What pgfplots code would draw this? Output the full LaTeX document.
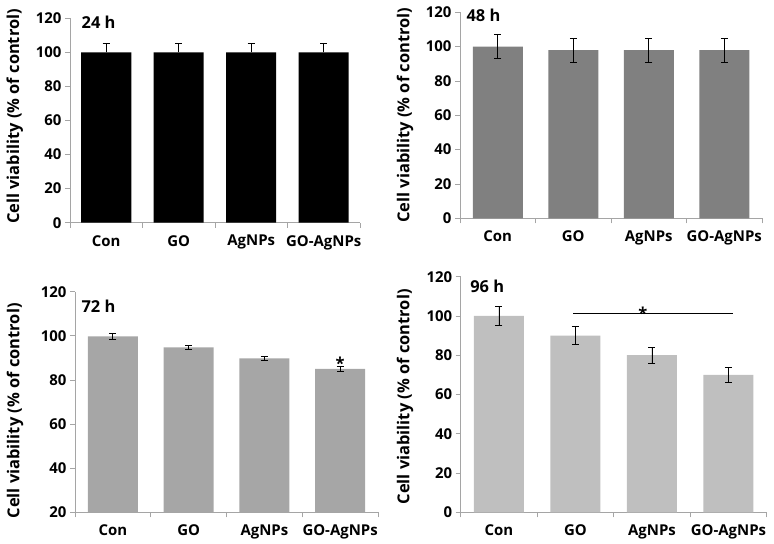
\documentclass[border=0pt]{standalone}
\usepackage{fontspec}
\setmainfont{Open Sans}
\usepackage{pgfplots}
\pgfplotsset{compat=1.18}
\definecolor{axgray}{RGB}{165,165,165}
\definecolor{bar48}{RGB}{128,128,128}
\definecolor{bar72}{RGB}{166,166,166}
\definecolor{bar96}{RGB}{191,191,191}
\pgfplotsset{
  panel/.style={
    scale only axis,
    clip mode=individual,
    axis x line*=bottom,
    axis y line*=left,
    axis line style={axgray, line width=0.8pt},
    xmin=-0.5, xmax=3.5,
    xtick={0,1,2,3},
    xticklabels={Con,GO,AgNPs,GO-AgNPs},
    major x tick style={draw=none},
    minor xtick={-0.5,0.5,1.5,2.5,3.5},
    minor x tick style={axgray, line width=0.8pt},
    ytick style={axgray, line width=0.8pt},
    tick align=outside,
    major tick length=5bp,
    minor tick length=5bp,
    ytick distance=20,
    /pgf/number format/assume math mode=true,
    tick label style={font=\bfseries\fontsize{15}{15}\selectfont, black},
    xticklabel style={yshift=-4bp},
    ylabel={Cell viability (\% of control)},
    ylabel style={font=\bfseries\fontsize{16.5}{16.5}\selectfont, anchor=center},
    bar width=50bp,
  },
  ebar/.style={error bars/.cd, y dir=#1, y explicit,
    error bar style={black, line width=0.8pt},
    error mark options={rotate=90, black, line width=0.8pt, mark size=3.5bp}},
  ebar/.default=both,
}
\newcommand\ttl{\bfseries\fontsize{16.5}{16.5}\selectfont}
\begin{document}
\begin{tikzpicture}
\path[use as bounding box] (0,0) rectangle (774bp,544bp);
% 24 h
\begin{axis}[panel, at={(70bp,321.3bp)}, anchor=south west,
  width=290bp, height=204.4bp, ymin=0, ymax=120,
  ylabel style={at={(axis description cs:-0.19,0.52)}}]
\addplot[ybar, fill=black, draw=none, ebar=plus]
  coordinates {(0,100) +- (0,5.3) (1,100) +- (0,5.3) (2,100) +- (0,5.3) (3,100) +- (0,5.3)};
\node[anchor=west, font=\ttl] at (rel axis cs:0.028,0.983) {24 h};
\end{axis}
% 48 h
\begin{axis}[panel, at={(460bp,325.7bp)}, anchor=south west,
  width=302bp, height=206bp, ymin=0, ymax=120,
  ylabel style={at={(axis description cs:-0.182,0.5)}}]
\addplot[ybar, fill=bar48, draw=none, ebar]
  coordinates {(0,100) +- (0,7) (1,98) +- (0,7) (2,98) +- (0,7) (3,98) +- (0,7)};
\node[anchor=west, font=\ttl] at (rel axis cs:0.01,0.987) {48 h};
\end{axis}
% 72 h
\begin{axis}[panel, at={(75bp,31.7bp)}, anchor=south west,
  width=303bp, height=220.6bp, ymin=20, ymax=120,
  ylabel style={at={(axis description cs:-0.198,0.46)}}]
\addplot[ybar, fill=bar72, draw=none, ebar]
  coordinates {(0,99.7) +- (0,1.2) (1,94.8) +- (0,1.0) (2,89.8) +- (0,1.0) (3,85) +- (0,1.0)};
\node[anchor=west, font=\ttl] at (rel axis cs:0.01,0.932) {72 h};
\node[anchor=base, font=\ttl] at (axis cs:3,84.6) {*};
\end{axis}
% 96 h
\begin{axis}[panel, at={(460.7bp,31.7bp)}, anchor=south west,
  width=306bp, height=235.6bp, ymin=0, ymax=120,
  ylabel style={at={(axis description cs:-0.182,0.49)}}]
\addplot[ybar, fill=bar96, draw=none, ebar]
  coordinates {(0,100) +- (0,5) (1,90) +- (0,4.5) (2,80) +- (0,4) (3,70) +- (0,3.7)};
\node[anchor=west, font=\ttl] at (rel axis cs:0.02,0.958) {96 h};
\draw[black, line width=1.2pt] (axis cs:0.97,101.4) -- (axis cs:3.06,101.4);
\node[anchor=base, font=\ttl] at (axis cs:1.88,98.4) {*};
\end{axis}
\end{tikzpicture}
\end{document}
